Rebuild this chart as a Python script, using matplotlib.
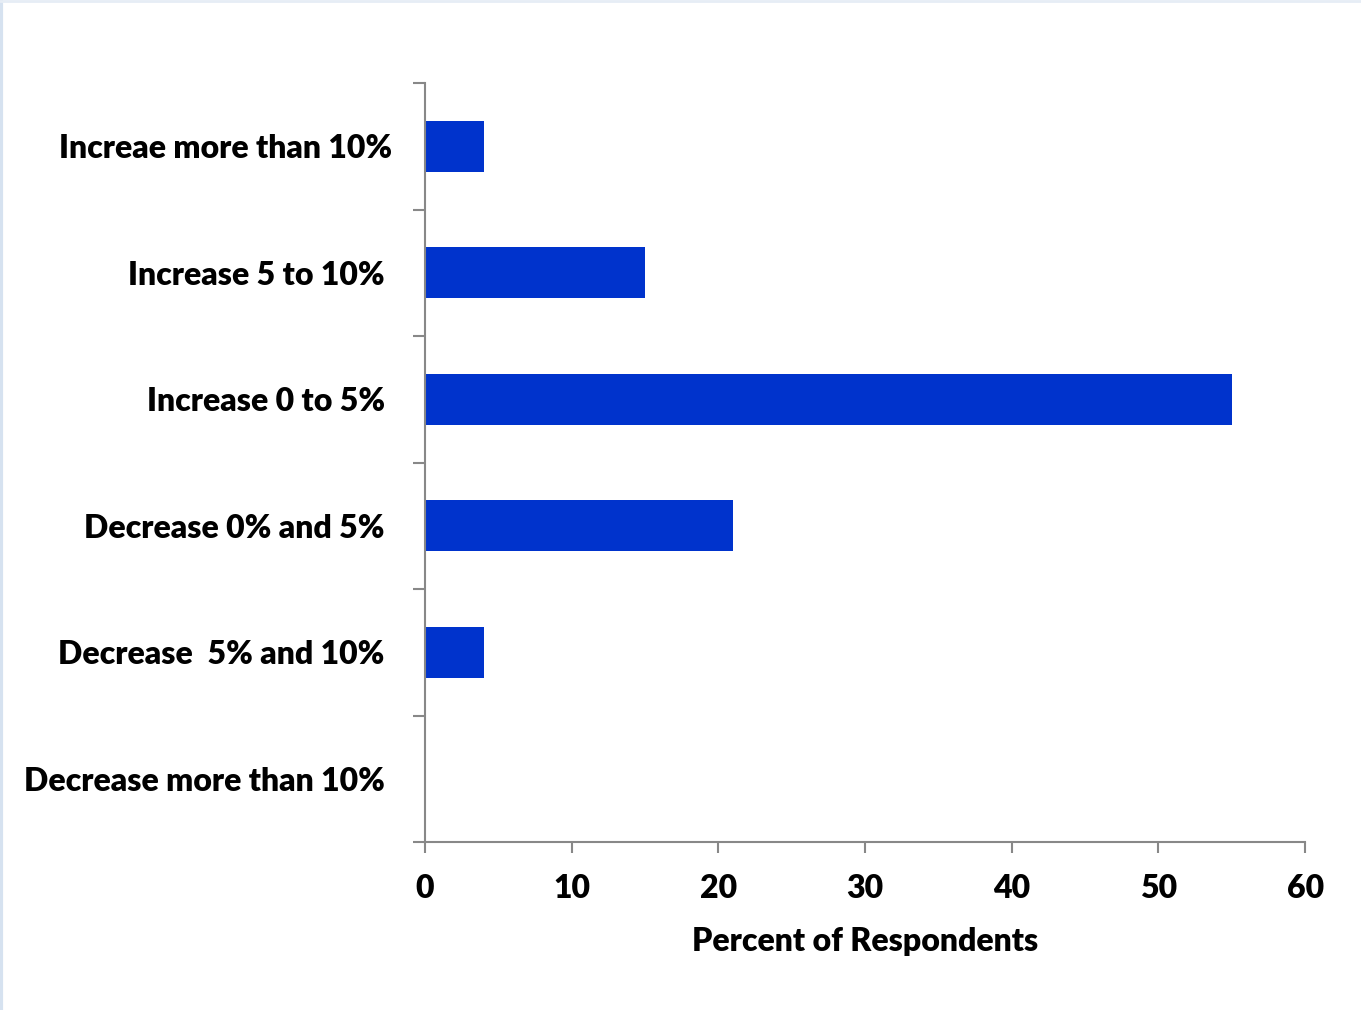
import matplotlib
matplotlib.use("Agg")
import matplotlib.pyplot as plt
import matplotlib.transforms as mtransforms
import numpy as np

plt.rcParams['font.family'] = ['Lato', 'DejaVu Sans']

categories = [
    "Increae more than 10%",
    "Increase 5 to 10%",
    "Increase 0 to 5%",
    "Decrease 0% and 5%",
    "Decrease  5% and 10%",
    "Decrease more than 10%",
]
percents = [4, 15, 55, 21, 4, 0]
x_ticks = [0, 10, 20, 30, 40, 50, 60]

BAR = "#0033cc"
AXIS = "#888888"
FS = 23
WEIGHT = 'heavy'

fig = plt.figure(figsize=(13.61, 10.10), dpi=100)
ax = fig.add_axes([0.3123, 0.1663, 0.6466, 0.7515])

pos = np.arange(len(categories))
ax.barh(pos, percents, height=0.4, color=BAR)

ax.set_ylim(len(categories) - 0.5, -0.5)
ax.set_xlim(0, 60)

# tick marks sit between categories, labels sit on them
ax.set_yticks(np.arange(-0.5, len(categories), 1.0))
ax.set_yticklabels([])
ax.set_yticks(pos, minor=True)
ax.set_yticklabels(categories, minor=True, fontsize=FS, fontweight=WEIGHT)
ax.tick_params(axis='y', which='minor', length=0, pad=29)
ax.tick_params(axis='y', which='major', length=9, width=1.5, color=AXIS)

# top label sits a little further right than the rest
first = ax.get_yticklabels(minor=True)[0]
first.set_transform(first.get_transform() +
                    mtransforms.ScaledTranslation(7 / 100, 0, fig.dpi_scale_trans))

ax.set_xticks(x_ticks)
ax.set_xticklabels([str(v) for v in x_ticks], fontsize=FS, fontweight=WEIGHT)
ax.tick_params(axis='x', length=8, width=1.5, color=AXIS, pad=15)

ax.set_xlabel("Percent of Respondents", fontsize=FS, fontweight=WEIGHT, labelpad=17)

for side in ('top', 'right'):
    ax.spines[side].set_visible(False)
for side in ('left', 'bottom'):
    ax.spines[side].set_color(AXIS)
    ax.spines[side].set_linewidth(1.5)

# faint frame along the left and top edges
fig.add_artist(plt.Line2D([0.001, 0.001], [0, 1], color="#d6e2f0", lw=3, transform=fig.transFigure))
fig.add_artist(plt.Line2D([0, 1], [0.999, 0.999], color="#e6edf5", lw=2, transform=fig.transFigure))

fig.savefig("out.png", dpi=100)
